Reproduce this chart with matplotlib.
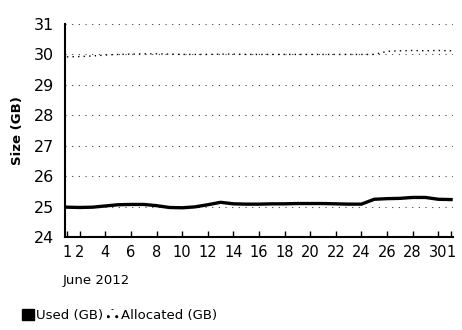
import matplotlib
matplotlib.use("Agg")
import matplotlib.pyplot as plt
from matplotlib.patches import Patch
from matplotlib import font_manager as fm

# Data (days: June 1..30, then July 1 as day 31)
days = list(range(1, 32))
used_gb = [24.98, 24.97, 24.98, 25.02, 25.06, 25.07, 25.07, 25.03, 24.97, 24.96,
           24.99, 25.06, 25.14, 25.09, 25.08, 25.08, 25.09, 25.09, 25.10, 25.10,
           25.10, 25.09, 25.08, 25.08, 25.24, 25.26, 25.27, 25.30, 25.30, 25.24,
           25.23]
allocated_gb = [29.92, 29.93, 29.95, 29.98, 30.00, 30.01, 30.02, 30.02, 30.01, 30.00,
                30.00, 30.00, 30.01, 30.01, 30.00, 30.00, 30.00, 30.00, 30.00, 30.00,
                30.00, 30.00, 30.00, 30.00, 30.00, 30.10, 30.12, 30.13, 30.12, 30.13,
                30.12]
tick_days = [1, 2, 4, 6, 8, 10, 12, 14, 16, 18, 20, 22, 24, 26, 28, 30, 31]
tick_labels = ["1", "2", "4", "6", "8", "10", "12", "14", "16", "18", "20",
               "22", "24", "26", "28", "30", "1"]
y_ticks = [24, 25, 26, 27, 28, 29, 30, 31]

names = {f.name for f in fm.fontManager.ttflist}
has_narrow = 'Liberation Sans Narrow' in names
narrow = 'Liberation Sans Narrow' if has_narrow else 'DejaVu Sans'
plt.rcParams['font.family'] = ['DejaVu Sans']

fig = plt.figure(figsize=(4.62, 3.30), dpi=100)
ax = fig.add_axes([65/462, 1-237/330, (453-65)/462, (237-24)/330])

for yv in y_ticks[1:]:
    ax.axhline(yv, color='#444444', lw=0.8, linestyle=(0, (1, 5)), zorder=1)

ax.plot(days, allocated_gb, color='black', lw=1.0, linestyle=(0, (1, 3)), zorder=2)
ax.plot(days, used_gb, color='black', lw=2.4, zorder=3)

ax.set_xlim(0.85, 31.15)
ax.set_ylim(24, 31)
ax.set_xticks(tick_days)
ax.set_xticklabels(tick_labels)
ax.set_yticks(y_ticks)
ax.set_yticklabels([str(v) for v in y_ticks])
ax.tick_params(axis='x', direction='in', length=4, width=1, pad=6, colors='black')
ax.tick_params(axis='y', length=0, pad=8)
for lab in ax.get_xticklabels():
    lab.set_fontfamily(narrow)
    lab.set_fontsize(13 if has_narrow else 10.5)
for lab in ax.get_yticklabels():
    lab.set_fontfamily(narrow)
    lab.set_fontsize(14 if has_narrow else 11.5)
for s in ['top', 'right']:
    ax.spines[s].set_visible(False)
ax.spines['left'].set_linewidth(1.5)
ax.spines['bottom'].set_linewidth(1.5)

ax.set_ylabel("Size (GB)", fontsize=9.5, fontweight='bold', labelpad=4)
ax.yaxis.set_label_coords(-0.105, 0.5)

fig.text(63/462, 1-284/330, "June 2012", fontsize=11.5 if has_narrow else 9.5,
         fontfamily=narrow, ha='left', va='baseline')

handles = [Patch(facecolor='black', edgecolor='black', label='Used (GB)'),
           Patch(facecolor='white', edgecolor='black', hatch='..', linewidth=0,
                 label='Allocated (GB)')]
leg = fig.legend(handles=handles, loc='lower left', bbox_to_anchor=(14/462, 0.0),
                 ncol=2, frameon=False, handlelength=0.9, handleheight=0.9,
                 handletextpad=0.15, columnspacing=0.3, borderaxespad=0.2,
                 prop={'family': narrow, 'size': 11 if has_narrow else 9.5})

fig.savefig("out.png", dpi=100)
